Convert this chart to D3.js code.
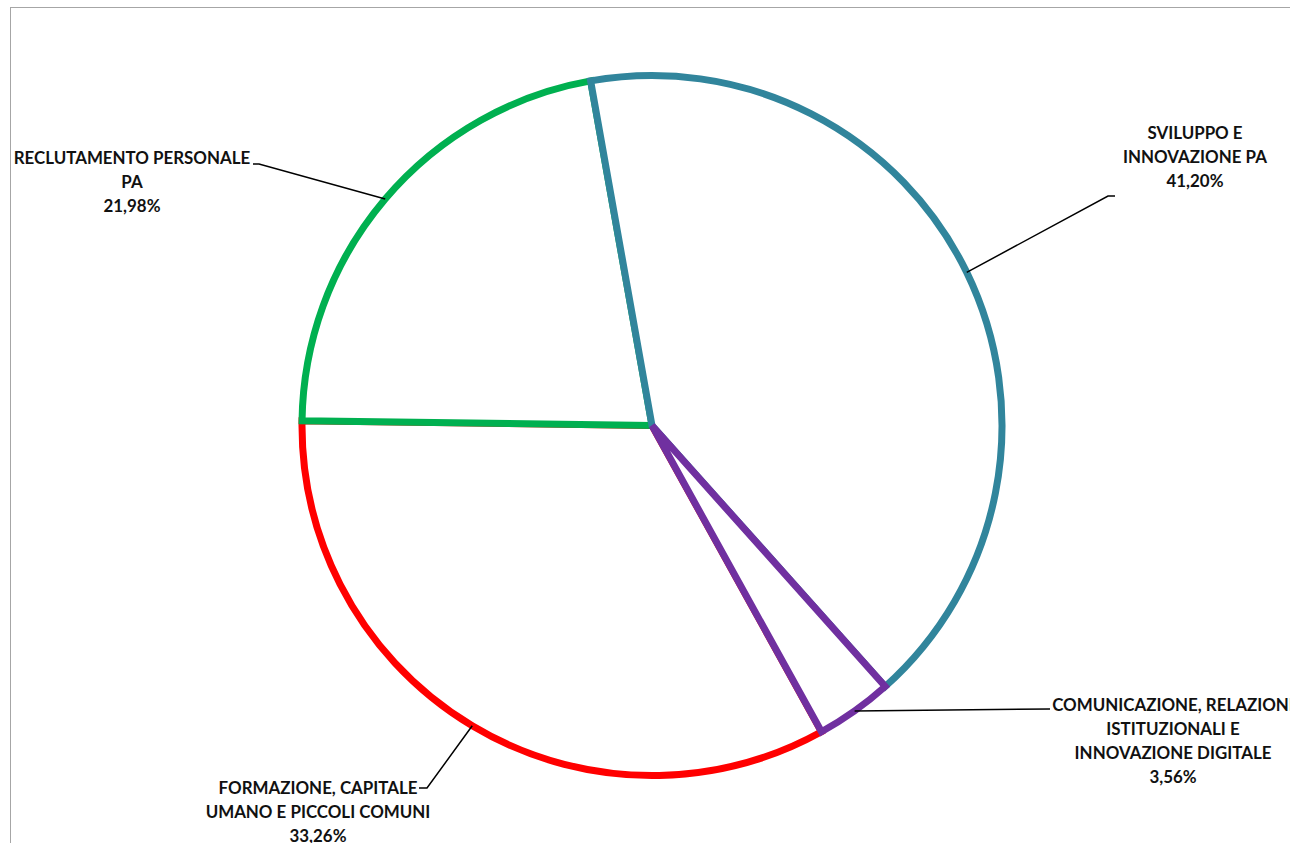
<!DOCTYPE html>
<html>
<head>
<meta charset="utf-8">
<script src="https://cdn.jsdelivr.net/npm/d3@7"></script>
<style>
  body { margin: 0; background: #fff; }
  svg { display: block; }
  text { font-family: Lato, "Open Sans", sans-serif; font-weight: bold; fill: #111; }
</style>
</head>
<body>
<div id="graph"></div>
<script>
// slices, clockwise from the first slice angle
var labels = [
  ['SVILUPPO E', 'INNOVAZIONE PA'],
  ['COMUNICAZIONE, RELAZIONI', 'ISTITUZIONALI E', 'INNOVAZIONE DIGITALE'],
  ['FORMAZIONE, CAPITALE', 'UMANO E PICCOLI COMUNI'],
  ['RECLUTAMENTO PERSONALE', 'PA']
]
var values = [41.20, 3.56, 33.26, 21.98]
var colors = ['#31859C', '#7030A0', '#FF0000', '#00B050']
// excel paints them in this order, so the shared edges get these colours
var drawOrder = [2, 3, 0, 1]

// where each label block sits (centre x, first baseline) and where its leader bends
var labelPos = [
  {x: 1195, y: 139, bend: [1108, 196], end: [1115, 196]},
  {x: 1173, y: 711, bend: [1050, 709], end: [1050, 709]},
  {x: 318, y: 794, bend: [427, 788], end: [419, 788]},
  {x: 132, y: 164, bend: [259, 164], end: [253, 164]}
]

var width = 1290, height = 843
var cx = 652, cy = 425.5, r = 350
var startAngle = -10.1 * Math.PI / 180
var fmt = d => d3.format('.2f')(d).replace('.', ',') + '%'

var svg = d3.select('#graph').append('svg')
    .attr('width', width).attr('height', height)

svg.append('rect')
    .attr('x', 10.5).attr('y', 7.5)
    .attr('width', width + 20).attr('height', height + 20)
    .attr('fill', '#fff').attr('stroke', '#a6a6a6').attr('stroke-width', 1)

var pie = d3.pie().sort(null).value(d => d)
    .startAngle(startAngle).endAngle(startAngle + 2 * Math.PI)
var arcs = pie(values)

var arc = d3.arc().innerRadius(0).outerRadius(r)

var g = svg.append('g').attr('transform', `translate(${cx},${cy})`)

g.selectAll('path.slice')
  .data(drawOrder.map(i => arcs[i]))
  .join('path')
    .attr('class', 'slice')
    .attr('d', arc)
    .attr('fill', '#fff')
    .attr('stroke', d => colors[d.index])
    .attr('stroke-width', 7)
    .attr('stroke-linejoin', 'miter')
    .attr('stroke-miterlimit', 4)

// leader lines start on the arc at each slice's middle angle
arcs.forEach((d, i) => {
  var a = (d.startAngle + d.endAngle) / 2
  var p0 = [cx + r * Math.sin(a), cy - r * Math.cos(a)]
  var lp = labelPos[i]
  svg.append('path')
    .attr('d', d3.line()([p0, lp.bend, lp.end]))
    .attr('fill', 'none')
    .attr('stroke', '#000')
    .attr('stroke-width', 1.5)

  var lines = labels[i].concat([fmt(values[i])])
  svg.append('text')
    .attr('text-anchor', 'middle')
    .style('font-size', '16.9px')
    .selectAll('tspan')
    .data(lines)
    .join('tspan')
      .attr('x', lp.x)
      .attr('y', (t, j) => lp.y + j * 24)
      .text(t => t)
})
</script>
</body>
</html>
